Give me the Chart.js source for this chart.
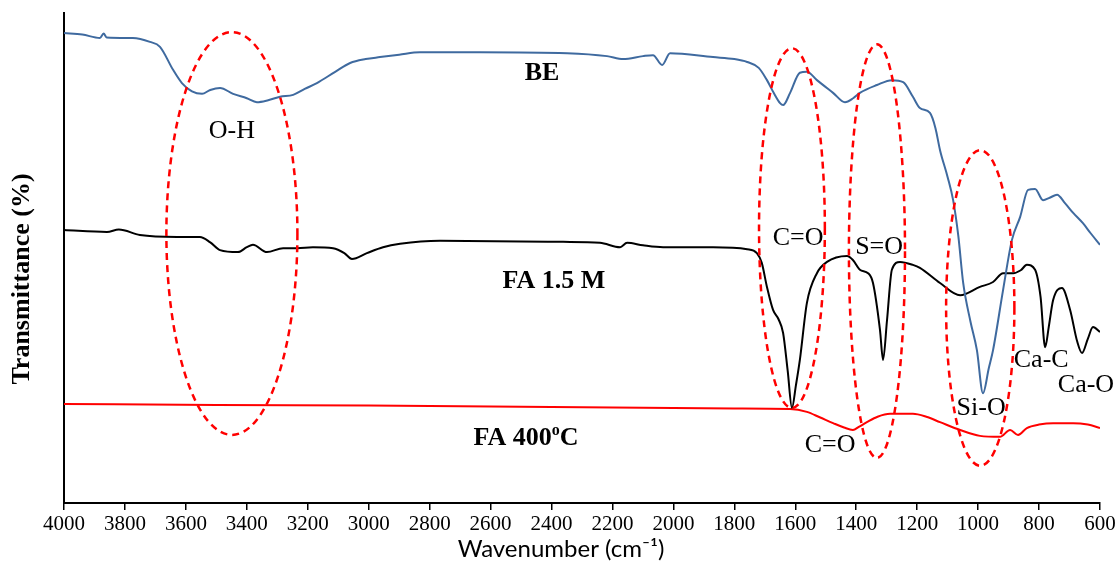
<!DOCTYPE html>
<html>
<head>
<meta charset="utf-8">
<script src="https://cdn.jsdelivr.net/npm/chart.js@4/dist/chart.umd.min.js"></script>
<style>
  body { margin: 0; background: #fff; }
  #caja { width: 1118px; height: 563px; }
</style>
</head>
<body>
<div id="caja"><canvas id="grafica"></canvas></div>
<script>
// BE
const beWn = [4000, 3940, 3882, 3870, 3860, 3774, 3718, 3685, 3642, 3613, 3580, 3547, 3520, 3488, 3445, 3400, 3367, 3330, 3291, 3248, 3210, 3170, 3110, 3061, 3010, 2963, 2900, 2832, 2635, 2349, 2218, 2165, 2100, 2067, 2037, 2011, 1870, 1800, 1758, 1720, 1693, 1670, 1650, 1640, 1617, 1585, 1562, 1529, 1476, 1437, 1410, 1388, 1332, 1283, 1246, 1214, 1191, 1158, 1140, 1125, 1100, 1082, 1065, 1049, 1025, 1004, 984, 965, 951, 918, 889, 862, 836, 813, 787, 765, 741, 715, 688, 656, 630, 600];
const beT = [95.9, 95.6, 94.9, 95.8, 95.0, 94.9, 94.1, 93.1, 88.4, 85.7, 84.0, 83.5, 84.3, 84.7, 83.5, 82.6, 81.8, 82.2, 82.9, 83.3, 84.5, 85.7, 88.0, 89.8, 90.6, 91.0, 91.5, 92.0, 92.0, 91.8, 91.2, 90.6, 91.2, 91.4, 89.4, 91.8, 91.0, 90.6, 90.0, 88.8, 86.3, 83.6, 81.6, 81.2, 83.7, 87.8, 88.0, 86.3, 83.7, 81.8, 82.6, 83.7, 85.3, 86.3, 85.9, 82.9, 80.6, 79.6, 76.5, 72.0, 66.5, 61.8, 54.5, 44.9, 37.0, 31.2, 22.4, 27.5, 31.2, 43.5, 53.7, 58.4, 63.9, 64.1, 61.8, 62.3, 62.9, 61.2, 59.2, 57.1, 55.0, 52.7];

// FA 1.5 M
const fa15Wn = [4000, 3859, 3820, 3751, 3629, 3554, 3520, 3488, 3429, 3400, 3380, 3334, 3281, 3235, 3183, 3117, 3080, 3055, 3006, 2953, 2897, 2766, 2362, 2241, 2175, 2152, 2100, 2034, 1870, 1758, 1726, 1710, 1693, 1673, 1655, 1640, 1625, 1611, 1598, 1585, 1562, 1529, 1496, 1430, 1411, 1388, 1361, 1345, 1322, 1312, 1299, 1283, 1256, 1214, 1191, 1125, 1059, 994, 951, 918, 885, 860, 840, 813, 795, 780, 768, 754, 725, 698, 675, 659, 640, 623, 600];
const fa15T = [55.7, 55.3, 55.8, 54.7, 54.3, 54.3, 53.2, 51.6, 51.2, 52.2, 52.7, 51.2, 52.0, 52.0, 52.2, 52.0, 51.0, 49.8, 51.0, 52.2, 52.9, 53.5, 53.3, 53.1, 52.2, 53.1, 52.6, 52.2, 52.2, 51.8, 51.0, 49.0, 44.1, 39.4, 37.5, 34.7, 27.0, 19.4, 24.0, 29.2, 40.8, 46.9, 49.2, 50.4, 49.6, 47.6, 46.9, 44.9, 35.3, 29.2, 37.3, 47.6, 49.2, 48.6, 48.0, 44.9, 42.4, 44.1, 45.1, 46.9, 46.9, 47.5, 48.6, 47.6, 42.0, 31.8, 36.0, 41.4, 43.9, 39.4, 33.0, 30.6, 33.5, 35.9, 34.9];

// FA 400oC
const fa400Wn = [4000, 3500, 3000, 2400, 1800, 1617, 1562, 1520, 1476, 1440, 1411, 1390, 1365, 1330, 1289, 1214, 1170, 1125, 1059, 994, 928, 895, 869, 840, 800, 754, 688, 640, 600];
const fa400T = [20.2, 20.0, 19.9, 19.6, 19.3, 19.2, 18.6, 17.5, 16.3, 15.4, 14.9, 15.6, 16.5, 17.6, 18.2, 18.2, 17.6, 16.5, 14.9, 13.7, 13.5, 14.9, 13.9, 15.3, 16.0, 16.3, 16.3, 16.0, 15.3];

const ejeX = { min: 600, max: 4000, paso: 200 };

// etiquetas de bandas: texto, numero de onda, transmitancia, negrita
const etiquetas = [
  ['O-H', 3449, 75.9, false],
  ['BE', 2431, 87.6, true],
  ['FA 1.5 M', 2392, 45.3, true],
  ['C=O', 1591, 54.1, false],
  ['S=O', 1325, 52.2, false],
  ['Si-O', 990, 19.4, false],
  ['Ca-C', 793, 29.2, false],
  ['Ca-O', 646, 24.1, false],
  ['C=O', 1486, 11.8, false]
];

// elipses: centro (cm-1, %), semiejes (cm-1, %)
const elipses = [
  [3449, 55.0, 215, 41.1],
  [1611, 56.1, 108, 36.7],
  [1332, 51.4, 92, 42.2],
  [993, 39.8, 112, 32.2]
];

function puntos(xs, ys) {
  return xs.map((x, i) => ({ x: x, y: ys[i] }));
}

const serif = '"Liberation Serif", "Times New Roman", serif';

const extras = {
  id: 'extras',
  afterDatasetsDraw(chart) {
    const ctx = chart.ctx;
    const sx = chart.scales.x;
    const sy = chart.scales.y;
    ctx.save();

    ctx.strokeStyle = '#ff0000';
    ctx.lineWidth = 2.5;
    ctx.setLineDash([7, 5]);
    elipses.forEach(e => {
      const cx = sx.getPixelForValue(e[0]);
      const cy = sy.getPixelForValue(e[1]);
      const rx = Math.abs(sx.getPixelForValue(e[0] + e[2]) - cx);
      const ry = Math.abs(sy.getPixelForValue(e[1] + e[3]) - cy);
      ctx.beginPath();
      ctx.ellipse(cx, cy, rx, ry, 0, 0, Math.PI * 2);
      ctx.stroke();
    });
    ctx.setLineDash([]);

    ctx.fillStyle = '#000';
    ctx.textAlign = 'center';
    ctx.textBaseline = 'middle';
    etiquetas.forEach(t => {
      ctx.font = (t[3] ? 'bold 26px ' : '26px ') + serif;
      ctx.fillText(t[0], sx.getPixelForValue(t[1]), sy.getPixelForValue(t[2]));
    });

    // FA 400oC con superindice
    const px = sx.getPixelForValue(2484);
    const py = sy.getPixelForValue(13.3);
    ctx.textAlign = 'left';
    const a = 'FA 400', b = 'C';
    ctx.font = 'bold 16px ' + serif;
    const wo = ctx.measureText('o').width;
    ctx.font = 'bold 26px ' + serif;
    const wa = ctx.measureText(a).width;
    const wb = ctx.measureText(b).width;
    const x0 = px - (wa + wo + wb) / 2;
    ctx.fillText(a, x0, py);
    ctx.fillText(b, x0 + wa + wo, py);
    ctx.font = 'bold 16px ' + serif;
    ctx.fillText('o', x0 + wa, py - 7);

    // titulos de ejes
    ctx.textAlign = 'center';
    ctx.font = '24px Lato, "DejaVu Sans", sans-serif';
    ctx.fillText('Wavenumber (cm\u207B\u00B9)', 561, 549);

    ctx.translate(22, 279);
    ctx.rotate(-Math.PI / 2);
    ctx.font = 'bold 26px ' + serif;
    ctx.fillText('Transmittance (%)', 0, 0);
    ctx.restore();
  }
};

const ctx = document.getElementById('grafica').getContext('2d');
new Chart(ctx, {
  type: 'line',
  data: {
    datasets: [
      { label: 'BE', data: puntos(beWn, beT), borderColor: '#3f6a9f', borderWidth: 2 },
      { label: 'FA 1.5 M', data: puntos(fa15Wn, fa15T), borderColor: '#000000', borderWidth: 2 },
      { label: 'FA 400oC', data: puntos(fa400Wn, fa400T), borderColor: '#ff0000', borderWidth: 2 }
    ]
  },
  options: {
    responsive: true,
    maintainAspectRatio: false,
    animation: false,
    elements: {
      point: { radius: 0 },
      line: { cubicInterpolationMode: 'monotone', fill: false }
    },
    layout: { padding: { top: 13, right: 18, left: 0, bottom: 0 } },
    plugins: {
      legend: { display: false },
      tooltip: { enabled: false }
    },
    scales: {
      x: {
        type: 'linear',
        reverse: true,
        min: ejeX.min,
        max: ejeX.max,
        afterFit: s => { s.height = 60; },
        afterBuildTicks: s => {
          const t = [];
          for (let v = ejeX.min; v <= ejeX.max; v += ejeX.paso) t.push({ value: v });
          s.ticks = t;
        },
        ticks: {
          color: '#000',
          font: { family: serif, size: 21 },
          padding: 2,
          maxRotation: 0,
          autoSkip: false,
          callback: v => String(v)
        },
        grid: { display: true, drawOnChartArea: false, drawTicks: true, tickLength: 7, color: '#000', lineWidth: 1.5 },
        border: { display: true, color: '#000', width: 2 }
      },
      y: {
        min: 0,
        max: 100,
        afterFit: s => { s.width = 64; },
        ticks: { display: false },
        grid: { display: false },
        border: { display: true, color: '#000', width: 2 }
      }
    }
  },
  plugins: [extras]
});
</script>
</body>
</html>
